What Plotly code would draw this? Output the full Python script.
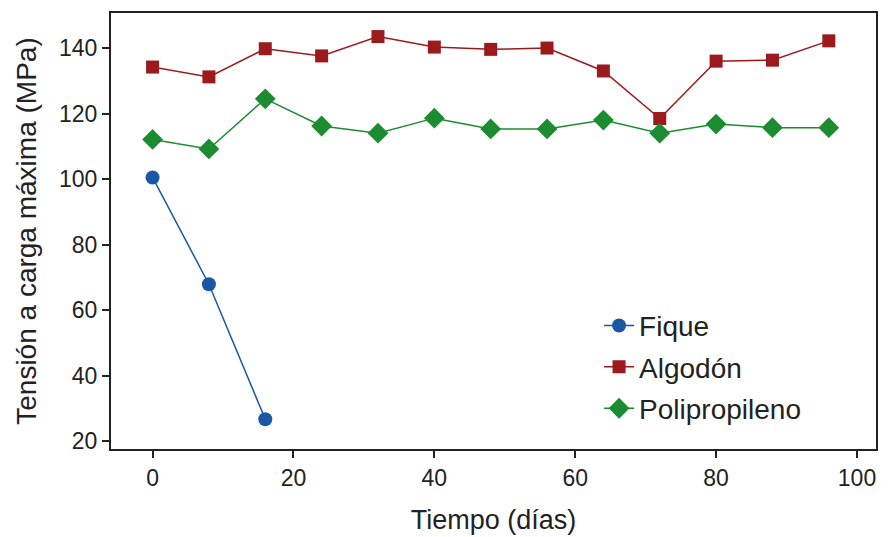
import plotly.graph_objects as go

dias = [0, 8, 16, 24, 32, 40, 48, 56, 64, 72, 80, 88, 96]
dias_fique = [0, 8, 16]
fique = [100.5, 67.9, 26.7]
algodon = [134.2, 131.2, 139.8, 137.6, 143.5, 140.3, 139.6, 140.0, 133.0, 118.5, 136.0, 136.3, 142.2]
polipropileno = [112.1, 109.2, 124.5, 116.2, 114.0, 118.6, 115.3, 115.3, 118.0, 114.0, 116.8, 115.7, 115.7]

x_ticks = [0, 20, 40, 60, 80, 100]
y_ticks = [20, 40, 60, 80, 100, 120, 140]

blue = "#1a58a6"
red = "#9c1a1c"
green = "#1c8c30"
txt = "#222222"

fig = go.Figure()
fig.add_trace(go.Scatter(x=dias_fique, y=fique, name="Fique", mode="lines+markers",
                         legendgroup="a",
                         line=dict(color=blue, width=1.5),
                         marker=dict(symbol="circle", size=14, color=blue)))
fig.add_trace(go.Scatter(x=dias, y=algodon, name="Algodón", mode="lines+markers",
                         legendgroup="b",
                         line=dict(color=red, width=1.5),
                         marker=dict(symbol="square", size=13, color=red)))
fig.add_trace(go.Scatter(x=dias, y=polipropileno, name="Polipropileno", mode="lines+markers",
                         legendgroup="c",
                         line=dict(color=green, width=1.5),
                         marker=dict(symbol="diamond", size=16, color=green)))

axis_common = dict(showline=True, linecolor=txt, linewidth=2, mirror=True,
                   ticks="outside", ticklen=7, tickwidth=1.5, tickcolor=txt,
                   showgrid=False, zeroline=False, automargin=False,
                   tickfont=dict(size=23, color=txt))

fig.update_xaxes(range=[-5.9, 102.7], tickvals=x_ticks,
                 title=dict(text="Tiempo (días)", font=dict(size=27, color=txt), standoff=21),
                 **axis_common)
fig.update_yaxes(range=[17.6, 150.7], tickvals=y_ticks,
                 title=dict(text="Tensión a carga máxima (MPa)", font=dict(size=28, color=txt), standoff=14),
                 **axis_common)

# page body has an 8px default margin; compensate so the plot area lands in place
fig.update_layout(
    width=881, height=529,
    margin=dict(l=103, r=13, t=5, b=88),
    paper_bgcolor="white", plot_bgcolor="white",
    font=dict(family="Liberation Sans, Arial, sans-serif", size=23, color=txt),
    legend=dict(x=0.638, y=0.34, xanchor="left", yanchor="top",
                bgcolor="rgba(0,0,0,0)", font=dict(size=28, color=txt),
                traceorder="grouped", tracegroupgap=2),
)

fig.write_html("out.html")
